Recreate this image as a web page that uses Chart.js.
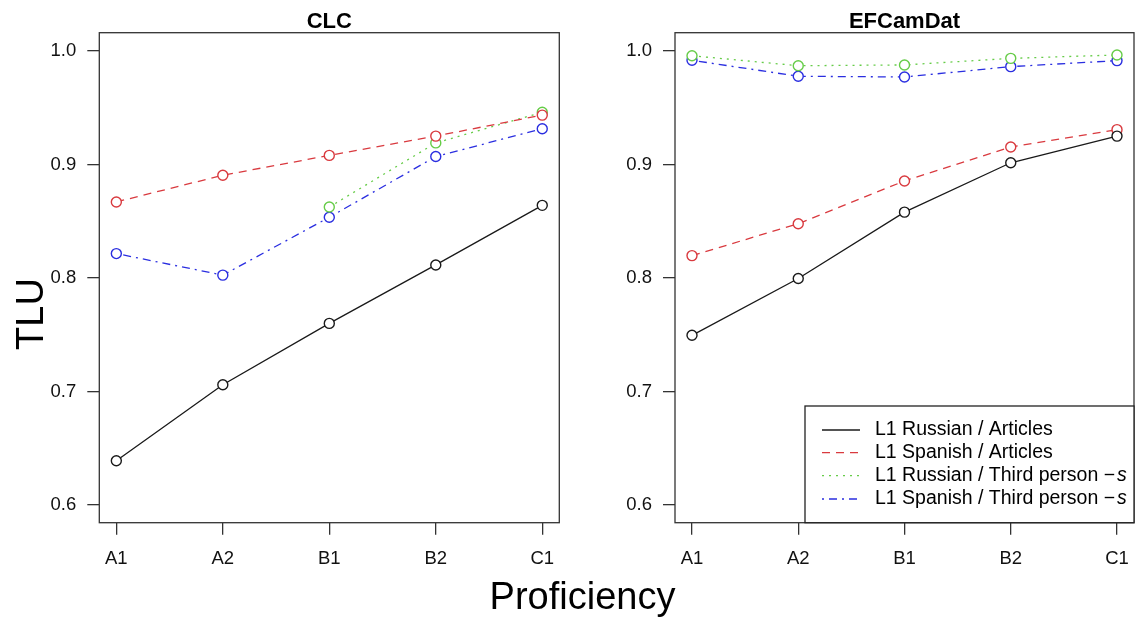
<!DOCTYPE html>
<html>
<head>
<meta charset="utf-8">
<script src="https://cdn.jsdelivr.net/npm/chart.js@4"></script>
<style>
  body { margin: 0; background: #fff; }
  #wrap { position: relative; width: 1135px; height: 619px; }
  #wrap canvas { position: absolute; left: 0; top: 0; }
</style>
</head>
<body>
<div id="wrap">
  <canvas id="clc" width="1135" height="619"></canvas>
  <canvas id="ef" width="1135" height="619"></canvas>
</div>
<script>
var categories = ["A1", "A2", "B1", "B2", "C1"];
var yTicks = [0.6, 0.7, 0.8, 0.9, 1.0];
var seriesLabels = [
  "L1 Russian / Articles",
  "L1 Spanish / Articles",
  "L1 Russian / Third person \u2212s",
  "L1 Spanish / Third person \u2212s"
];

// CLC
var clcRusArt = [0.639, 0.706, 0.760, 0.8115, 0.864];
var clcSpaArt = [0.867, 0.8905, 0.908, 0.925, 0.9435];
var clcRus3s = [null, null, 0.8625, 0.919, 0.946];
var clcSpa3s = [0.8215, 0.8025, 0.8535, 0.907, 0.9315];

// EFCamDat
var efRusArt = [0.7495, 0.7995, 0.858, 0.9015, 0.925];
var efSpaArt = [0.8197, 0.8478, 0.8855, 0.9154, 0.9307];
var efRus3s = [0.9958, 0.987, 0.9877, 0.9935, 0.9965];
var efSpa3s = [0.9918, 0.9777, 0.9771, 0.9862, 0.9915];

var colors = ["#1a1a1a", "#d93a3f", "#66cc48", "#2a2ee0"];
var dashes = [[], [8, 6], [2, 5], [2, 5, 8, 5]];
var FONT = "'Liberation Sans', Arial, sans-serif";

function pts(arr) {
  return arr.map(function (v, i) { return { x: i, y: v }; });
}

function makeSets(list) {
  return list.map(function (arr, k) {
    return {
      label: seriesLabels[k],
      data: pts(arr),
      borderColor: colors[k],
      borderWidth: 1.3,
      borderDash: dashes[k],
      pointRadius: 5,
      pointBorderWidth: 1.4,
      pointBorderColor: colors[k],
      pointBackgroundColor: "#fff",
      fill: false,
      tension: 0
    };
  });
}

var boxPlugin = {
  id: "box",
  afterDraw: function (chart, args, opts) {
    var ctx = chart.ctx, a = chart.chartArea;
    ctx.save();
    ctx.strokeStyle = "#333";
    ctx.lineWidth = 1.3;
    ctx.strokeRect(a.left, a.top, a.right - a.left, a.bottom - a.top);
    ctx.fillStyle = "#000";
    ctx.font = "bold 22px " + FONT;
    ctx.textAlign = "center";
    ctx.textBaseline = "middle";
    ctx.fillText(opts.title, (a.left + a.right) / 2, 22);

    if (opts.axisTitles) {
      ctx.font = "38px " + FONT;
      ctx.textBaseline = "alphabetic";
      ctx.fillText("Proficiency", 582.5, 609);
      ctx.save();
      ctx.translate(43, 314);
      ctx.rotate(-Math.PI / 2);
      ctx.font = "38px " + FONT;
      ctx.fillText("TLU", 0, 0);
      ctx.restore();
      ctx.textBaseline = "middle";
    }

    if (opts.legend) {
      var lx = 805, ly = 406;
      ctx.fillStyle = "#fff";
      ctx.fillRect(lx, ly, a.right - lx, a.bottom - ly);
      ctx.strokeStyle = "#222";
      ctx.lineWidth = 1.3;
      ctx.strokeRect(lx, ly, a.right - lx, a.bottom - ly);
      var rows = [430, 452.7, 475.7, 499];
      chart.data.datasets.forEach(function (ds, k) {
        var y = rows[k];
        ctx.strokeStyle = ds.borderColor;
        ctx.lineWidth = 1.3;
        ctx.setLineDash(ds.borderDash);
        ctx.beginPath();
        ctx.moveTo(822, y);
        ctx.lineTo(860, y);
        ctx.stroke();
        ctx.setLineDash([]);
        ctx.fillStyle = "#000";
        ctx.textAlign = "left";
        ctx.font = "19.5px " + FONT;
        var txt = ds.label;
        if (txt.slice(-1) === "s" && txt.indexOf("\u2212") > 0) {
          var head = txt.slice(0, -1);
          ctx.fillText(head, 875, y);
          var w = ctx.measureText(head).width;
          ctx.font = "italic 19.5px " + FONT;
          ctx.fillText("s", 875 + w + 2, y);
        } else {
          ctx.fillText(txt, 875, y);
        }
      });
    }
    ctx.restore();
  }
};

function makeChart(id, sets, o) {
  var tickFont = { family: FONT, size: 18.5 };
  return new Chart(document.getElementById(id).getContext("2d"), {
    type: "line",
    data: { datasets: makeSets(sets) },
    plugins: [boxPlugin],
    options: {
      responsive: false,
      animation: false,
      events: [],
      layout: { padding: o.padding, autoPadding: false },
      plugins: {
        legend: { display: false },
        tooltip: { enabled: false },
        box: { title: o.title, legend: o.legend, axisTitles: o.axisTitles }
      },
      scales: {
        x: {
          type: "linear",
          min: -0.16,
          max: 4.16,
          afterBuildTicks: function (s) {
            s.ticks = categories.map(function (c, i) { return { value: i }; });
          },
          afterFit: function (s) {
            s.height = 50;
            s.paddingLeft = 0;
            s.paddingRight = 0;
          },
          ticks: {
            autoSkip: false,
            maxRotation: 0,
            padding: 13,
            color: "#111",
            font: tickFont,
            callback: function (v) { return categories[v]; }
          },
          grid: { drawOnChartArea: false, drawTicks: true, tickLength: 12, color: "#333", lineWidth: 1.3 },
          border: { display: false }
        },
        y: {
          min: 0.5844,
          max: 1.0161,
          afterBuildTicks: function (s) {
            s.ticks = yTicks.map(function (v) { return { value: v }; });
          },
          afterFit: function (s) {
            s.width = o.yWidth;
            s.paddingTop = 0;
            s.paddingBottom = 0;
          },
          ticks: {
            padding: 11,
            color: "#111",
            font: tickFont,
            callback: function (v) { return v.toFixed(1); }
          },
          grid: { drawOnChartArea: false, drawTicks: true, tickLength: 12, color: "#333", lineWidth: 1.3 },
          border: { display: false }
        }
      }
    }
  });
}

makeChart("clc", [clcRusArt, clcSpaArt, clcRus3s, clcSpa3s], {
  title: "CLC",
  yWidth: 99.3,
  padding: { left: 0, right: 575.7, top: 32.7, bottom: 46.3 },
  axisTitles: true,
  legend: false
});

makeChart("ef", [efRusArt, efSpaArt, efRus3s, efSpa3s], {
  title: "EFCamDat",
  yWidth: 60,
  padding: { left: 615, right: 1, top: 32.7, bottom: 46.3 },
  axisTitles: false,
  legend: true
});
</script>
</body>
</html>
